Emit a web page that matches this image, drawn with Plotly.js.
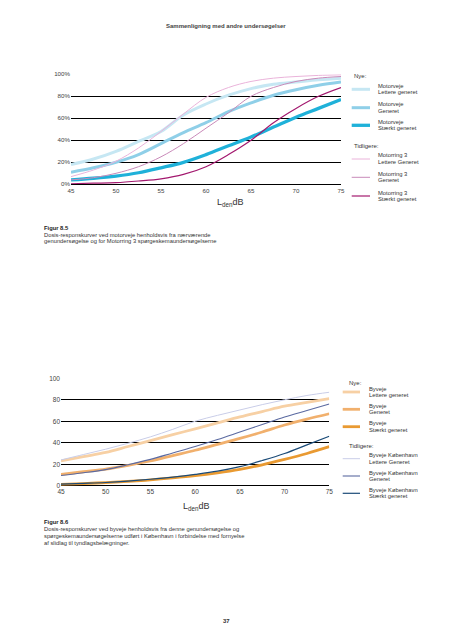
<!DOCTYPE html>
<html>
<head>
<meta charset="utf-8">
<script src="https://cdn.plot.ly/plotly-3.0.1.min.js"></script>
<style>html,body{margin:0;padding:0;background:#fff;}#chart{width:453px;height:640px;}</style>
</head>
<body>
<div id="chart"></div>
<script>
// ---------- DATA ----------
var levels = [45, 47.5, 50, 52.5, 55, 57.5, 60, 62.5, 65, 67.5, 70, 72.5, 75];
var xTicks = [45, 50, 55, 60, 65, 70, 75];
var yTicksTop = [0, 20, 40, 60, 80, 100];
var yTickTextTop = ['0%', '20%', '40%', '60%', '80%', '100%'];
var yTicksBottom = [0, 20, 40, 60, 80, 100];
var yTickTextBottom = ['0', '20', '40', '60', '80', '100'];

// Figur 8.5 – motorveje (percent annoyed)
var motorvejeLettere = [18, 23, 30, 39, 48, 63, 73, 81, 87, 91, 93, 95, 96.5];
var motorvejeGeneret = [11, 15, 20, 27, 37, 47, 56, 66, 74, 81, 86, 90, 93];
var motorvejeStaerkt = [4, 5.5, 7.5, 10.5, 15, 20, 27, 35, 43, 52, 61, 69, 77];
var motorring3Lettere = [7, 13, 21, 33, 48, 64, 79, 88, 93.5, 96.5, 98, 99, 99.5];
var motorring3Generet = [4, 6, 10, 16, 25, 37, 51, 65, 80, 88, 93.5, 96.5, 98];
var motorring3Staerkt = [0.5, 1, 1.5, 3, 5, 9, 16, 27, 40, 56, 69, 80, 88];

// Figur 8.6 – byveje
var byvejeLettere = [23, 27, 31, 36.5, 42, 47.5, 53, 58.5, 64, 69, 74, 77.5, 81];
var byvejeGeneret = [10.5, 13, 15.5, 19, 23, 28, 33, 38.5, 44, 50, 56.5, 62, 67];
var byvejeStaerkt = [1.3, 2, 2.9, 4, 5.4, 7.2, 9.3, 12, 15.3, 19.5, 24.5, 30, 36.3];
var kbhLettere = [24, 29, 34, 39.5, 45.5, 52.5, 60, 65.5, 70.5, 75.5, 80, 84, 87];
var kbhGeneret = [9.5, 12, 15, 19.5, 24.5, 30.5, 36.5, 43, 50, 57, 64, 70, 76];
var kbhStaerkt = [1.5, 2.2, 3, 4.3, 6, 8, 10.5, 13.5, 17.7, 23.5, 30, 38, 46];

var topNames = ['Motorveje<br>Lettere generet', 'Motorveje<br>Generet', 'Motorveje<br>Stærkt generet',
                'Motorring 3<br>Lettere Generet', 'Motorring 3<br>Generet', 'Motorring 3<br>Stærkt generet'];
var bottomNames = ['Byveje<br>Lettere generet', 'Byveje<br>Generet', 'Byveje<br>Stærkt generet',
                   'Byveje København<br>Lettere Generet', 'Byveje København<br>Generet', 'Byveje København<br>Stærkt generet'];

// ---------- STYLE ----------
var topColors = ['#c6e7f3', '#8fcfe8', '#1fb1d9', '#eab3da', '#c98ab9', '#a3196f'];
var topWidths = [3, 3, 3.3, 1, 1, 1.2];
var bottomColors = ['#f7d0a4', '#f1b06d', '#e99a32', '#c9cde8', '#5b6aa1', '#1b4b78'];
var bottomWidths = [2.8, 2.8, 2.8, 1, 1.1, 1.2];

var FONT = 'Liberation Sans, Arial, Helvetica, sans-serif';
var W = 453, H = 640;
function px(x){ return x / W; }
function py(y){ return 1 - y / H; }

var topSeries = [motorvejeLettere, motorvejeGeneret, motorvejeStaerkt, motorring3Lettere, motorring3Generet, motorring3Staerkt];
var bottomSeries = [byvejeLettere, byvejeGeneret, byvejeStaerkt, kbhLettere, kbhGeneret, kbhStaerkt];

var traces = [];
topSeries.forEach(function(s, i){
  traces.push({x: levels, y: s, type: 'scatter', mode: 'lines', xaxis: 'x', yaxis: 'y',
    name: topNames[i].replace('<br>', ' '), showlegend: false, hoverinfo: 'skip',
    line: {color: topColors[i], width: topWidths[i], shape: 'spline', smoothing: 1}});
});
bottomSeries.forEach(function(s, i){
  traces.push({x: levels, y: s, type: 'scatter', mode: 'lines', xaxis: 'x2', yaxis: 'y2',
    name: bottomNames[i].replace('<br>', ' '), showlegend: false, hoverinfo: 'skip',
    line: {color: bottomColors[i], width: bottomWidths[i], shape: 'spline', smoothing: 1}});
});

var shapes = [];
var annotations = [];
function txt(text, x, y, size, opts){
  opts = opts || {};
  annotations.push({text: text, x: px(x), y: py(y), xref: 'paper', yref: 'paper',
    xanchor: opts.xanchor || 'left', yanchor: 'middle', showarrow: false,
    font: {family: FONT, size: size, color: opts.color || '#333', weight: opts.weight || 'normal'}});
}

// Legends (manual layout matching the printed page)
function legend(names, colors, widths, sx0, sx1, tx, swY, hx, nyY, tidY){
  txt('Nye:', hx, nyY, 6);
  txt('Tidligere:', hx, tidY, 6);
  names.forEach(function(n, i){
    shapes.push({type: 'line', xref: 'paper', yref: 'paper', x0: px(sx0), x1: px(sx1),
      y0: py(swY[i]), y1: py(swY[i]), line: {color: colors[i], width: widths[i]}});
    var parts = n.split('<br>');
    txt(parts[0], tx, swY[i] - 3.5, 5.8);
    txt(parts[1], tx, swY[i] + 3, 5.8);
  });
}
legend(topNames, topColors, topWidths, 351.7, 370, 375.7, [89.3, 107.7, 125.3, 159, 177.3, 196], 351.7, 75.7, 146);
legend(bottomNames, bottomColors, bottomWidths, 342.7, 360, 367, [392, 409.3, 426.7, 458.7, 476, 493.3], 347, 383.3, 445.7);

// Header, axis titles, captions, page number
txt('Sammenligning med andre undersøgelser', 226.3, 26, 6, {xanchor: 'center', color: '#444', weight: 'bold'});
txt('L<sub>den</sub>dB', 230.8, 203, 9, {xanchor: 'center', color: '#333'});
txt('L<sub>den</sub>dB', 196.2, 506, 9, {xanchor: 'center', color: '#333'});
txt('Figur 8.5', 42.3, 228.3, 5.8, {weight: 'bold', color: '#222'});
txt('Dosis-responskurver ved motorveje henholdsvis fra nærværende', 42.3, 234.6, 5.8);
txt('genundersøgelse og for Motorring 3 spørgeskemaundersøgelserne', 42.3, 241, 5.8);
txt('Figur 8.6', 42.3, 522, 5.8, {weight: 'bold', color: '#222'});
txt('Dosis-responskurver ved byveje henholdsvis fra denne genundersøgelse og', 42.3, 529, 5.8);
txt('spørgeskemaundersøgelserne udført i København i forbindelse med fornyelse', 42.3, 536, 5.8);
txt('af slidlag til tyndlagsbelægninger.', 42.3, 543.2, 5.8);
txt('37', 226, 621, 6, {xanchor: 'center', color: '#333', weight: 'bold'});

var tickFont = {family: FONT, size: 6.2, color: '#444'};
var tickFont2 = {family: FONT, size: 6.5, color: '#444'};

var layout = {
  width: W, height: H,
  margin: {l: 0, r: 0, t: 0, b: 0, pad: 0},
  paper_bgcolor: '#fff', plot_bgcolor: 'rgba(0,0,0,0)',
  showlegend: false,
  font: {family: FONT, color: '#333'},
  xaxis: {domain: [px(71), px(341)], anchor: 'y', range: [45, 75], tickmode: 'array', tickvals: xTicks,
    showgrid: false, zeroline: false, showline: false, ticks: '', tickfont: tickFont, fixedrange: true,
    ticklabelstandoff: 1},
  yaxis: {domain: [py(184.3), py(74.3)], anchor: 'x', range: [0, 100], tickmode: 'array', tickvals: yTicksTop,
    ticktext: yTickTextTop, showgrid: true, gridcolor: '#000', gridwidth: 1, zeroline: true, zerolinecolor: '#000',
    zerolinewidth: 1, showline: false, ticks: '', tickfont: tickFont, fixedrange: true},
  xaxis2: {domain: [px(61), px(329.3)], anchor: 'y2', range: [45, 75], tickmode: 'array', tickvals: xTicks,
    showgrid: false, zeroline: false, showline: false, ticks: '', tickfont: tickFont2, fixedrange: true,
    ticklabelstandoff: 1},
  yaxis2: {domain: [py(485.7), py(378.3)], anchor: 'x2', range: [0, 100], tickmode: 'array', tickvals: yTicksBottom,
    ticktext: yTickTextBottom, showgrid: true, gridcolor: '#000', gridwidth: 1, zeroline: true, zerolinecolor: '#000',
    zerolinewidth: 1, showline: false, ticks: '', tickfont: tickFont2, fixedrange: true},
  shapes: shapes,
  annotations: annotations
};

Plotly.newPlot('chart', traces, layout, {displayModeBar: false, staticPlot: true});
</script>
</body>
</html>
